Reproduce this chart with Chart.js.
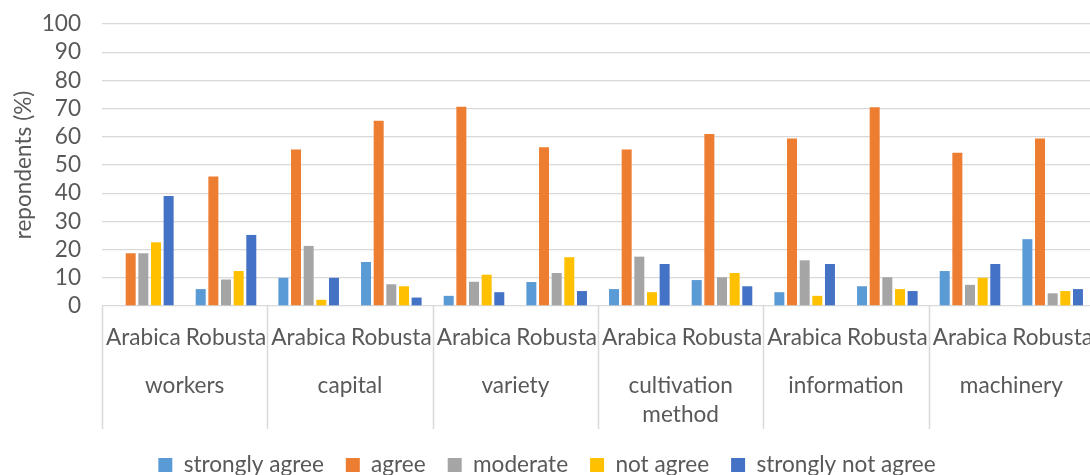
<!DOCTYPE html>
<html>
<head>
<meta charset="utf-8">
<script src="https://cdn.jsdelivr.net/npm/chart.js@4/dist/chart.umd.min.js"></script>
<style>
  html, body { margin: 0; padding: 0; background: #fff; overflow: hidden; }
  #wrap { width: 1094px; height: 475px; position: relative; }
</style>
</head>
<body>
<div id="wrap"><canvas id="chart"></canvas></div>
<script>
// Constraint groups and coffee varieties (two bar clusters per group)
const groups = ['workers', 'capital', 'variety', ['cultivation', 'method'], 'information', 'machinery'];
const varieties = ['Arabica', 'Robusta'];
const yTicks = [0, 10, 20, 30, 40, 50, 60, 70, 80, 90, 100];

// Share of respondents (%) per answer, ordered Arabica/Robusta for each group
const stronglyAgree    = [0.0, 6.0, 10.0, 15.6, 3.6, 8.5, 6.0, 9.2, 4.9, 7.0, 12.4, 23.7];
const agree            = [18.7, 45.9, 55.5, 65.7, 70.7, 56.3, 55.5, 61.0, 59.4, 70.5, 54.3, 59.4];
const moderate         = [18.7, 9.4, 21.3, 7.7, 8.6, 11.7, 17.5, 10.2, 16.2, 10.2, 7.5, 4.5];
const notAgree         = [22.6, 12.4, 2.2, 7.0, 11.1, 17.3, 4.9, 11.7, 3.6, 6.0, 10.0, 5.3];
const stronglyNotAgree = [39.0, 25.2, 10.0, 3.0, 4.9, 5.3, 14.9, 7.0, 14.9, 5.3, 14.9, 6.0];

const seriesNames = ['strongly agree', 'agree', 'moderate', 'not agree', 'strongly not agree'];
const seriesColors = ['#5B9BD5', '#ED7D31', '#A5A5A5', '#FFC000', '#4472C4'];
const seriesData = [stronglyAgree, agree, moderate, notAgree, stronglyNotAgree];

const labels = [];
groups.forEach(() => varieties.forEach(v => labels.push(v)));

const FONT = 'Lato, "Open Sans", sans-serif';
const SIZE = 22.6;
const TEXT = '#595959';
const GRID = '#d9d9d9';

// Vertical dividers between groups, spanning both rows of category labels
const groupDividers = {
  id: 'groupDividers',
  afterDraw(chart) {
    const xs = chart.scales.x;
    const ctx = chart.ctx;
    const per = varieties.length;
    const y0 = chart.chartArea.bottom;
    const y1 = y0 + 123;
    ctx.save();
    ctx.strokeStyle = GRID;
    ctx.lineWidth = 1.5;
    for (let g = 0; g <= groups.length; g++) {
      let px;
      if (g === 0) px = xs.left;
      else if (g === groups.length) px = xs.right;
      else px = (xs.getPixelForValue(g * per - 1) + xs.getPixelForValue(g * per)) / 2;
      ctx.beginPath();
      ctx.moveTo(Math.round(px) + 0.5, y0);
      ctx.lineTo(Math.round(px) + 0.5, y1);
      ctx.stroke();
    }
    ctx.restore();
  }
};

new Chart(document.getElementById('chart'), {
  type: 'bar',
  data: {
    labels: labels,
    datasets: seriesNames.map((name, i) => ({
      label: name,
      data: seriesData[i],
      backgroundColor: seriesColors[i],
      borderWidth: 0,
      categoryPercentage: 0.765,
      barPercentage: 0.79
    }))
  },
  options: {
    responsive: true,
    maintainAspectRatio: false,
    animation: false,
    layout: { padding: { top: 24, right: 0, bottom: -11.3, left: 0 } },
    plugins: {
      tooltip: { enabled: false },
      legend: {
        position: 'bottom',
        labels: {
          font: { family: FONT, size: SIZE },
          color: TEXT,
          boxWidth: 14,
          boxHeight: 14,
          padding: 22
        }
      }
    },
    scales: {
      y: {
        min: 0,
        max: 100,
        afterBuildTicks(scale) { scale.ticks = yTicks.map(v => ({ value: v })); },
        afterFit(scale) {
          scale.width = 102;
          scale.paddingTop = 0;
          scale.paddingBottom = 0;
        },
        ticks: { font: { family: FONT, size: SIZE }, color: TEXT, padding: 21, autoSkip: false },
        grid: { color: GRID, lineWidth: 1.3, drawTicks: false },
        border: { display: false },
        title: {
          display: true,
          text: 'repondents (%)',
          font: { family: FONT, size: SIZE },
          color: TEXT,
          padding: { top: 10, bottom: 0 }
        }
      },
      x: {
        offset: true,
        grid: { display: false },
        border: { display: false },
        afterFit(scale) {
          scale.height = 54;
          scale.paddingLeft = 0;
          scale.paddingRight = 0;
        },
        ticks: {
          font: { family: FONT, size: SIZE },
          color: TEXT,
          padding: 10.5,
          maxRotation: 0,
          autoSkip: false
        }
      },
      x2: {
        type: 'category',
        position: 'bottom',
        labels: groups,
        offset: true,
        grid: { display: false },
        border: { display: false },
        afterFit(scale) {
          scale.height = 71.7;
          scale.paddingLeft = 0;
          scale.paddingRight = 0;
        },
        ticks: {
          font: { family: FONT, size: SIZE, lineHeight: 1.29 },
          color: TEXT,
          padding: 3,
          maxRotation: 0,
          autoSkip: false
        }
      }
    }
  },
  plugins: [groupDividers]
});
</script>
</body>
</html>
